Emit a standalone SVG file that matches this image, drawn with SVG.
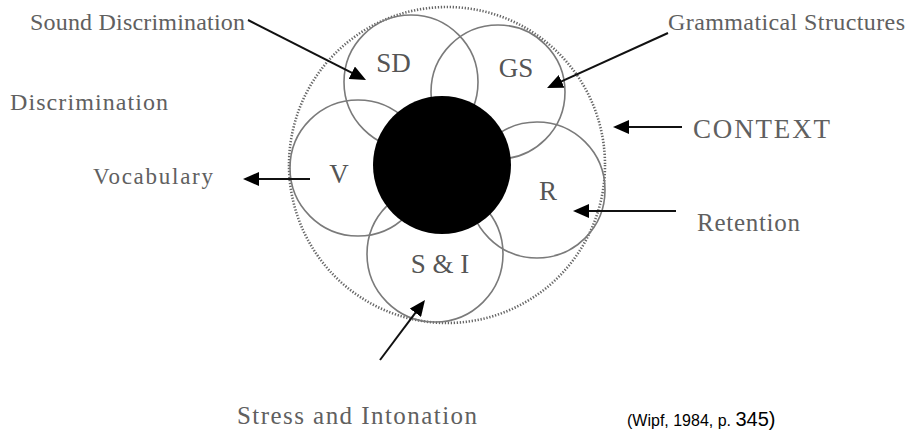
<svg xmlns="http://www.w3.org/2000/svg" width="910" height="430" viewBox="0 0 910 430">
<style>
.lbl{font-family:"Liberation Serif","Times New Roman",serif;fill:#606060;}
.in{font-family:"Liberation Serif","Times New Roman",serif;fill:#555;font-size:27px;text-anchor:middle;}
.ring{fill:none;stroke:#7a7a7a;stroke-width:1.6;}
.ctx{fill:none;stroke:#666;stroke-width:2.6;stroke-dasharray:1.3 1.7;}
.arr{stroke:#111;stroke-width:2;fill:none;marker-end:url(#ah);}
.cite{font-family:"Liberation Sans",Arial,sans-serif;fill:#000;}
</style>
<defs>
<marker id="ah" viewBox="0 0 16 14" refX="8" refY="7" markerWidth="16" markerHeight="14" markerUnits="userSpaceOnUse" orient="auto">
<path d="M0,0 L16,7 L0,14 z" fill="#000"/>
</marker>
</defs>
<rect width="910" height="430" fill="#fff"/>
<g id="context-ring"><circle class="ctx" cx="447" cy="165" r="158"/></g>
<g id="node-sd"><circle class="ring" cx="411" cy="82" r="67"/><text class="in" x="393.5" y="72">SD</text></g>
<g id="node-gs"><circle class="ring" cx="498" cy="92" r="67"/><text class="in" x="516" y="77">GS</text></g>
<g id="node-v"><circle class="ring" cx="358" cy="168" r="68"/><text class="in" x="339" y="183">V</text></g>
<g id="node-r"><circle class="ring" cx="537" cy="190" r="68"/><text class="in" x="548" y="200">R</text></g>
<g id="node-si"><circle class="ring" cx="435" cy="254" r="68"/><text class="in" x="440" y="273">S &amp; I</text></g>
<g id="node-core"><circle cx="442" cy="165" r="69" fill="#000"/></g>
<g id="label-sound"><text class="lbl" x="30" y="30" font-size="24" textLength="215" lengthAdjust="spacing">Sound Discrimination</text></g>
<g id="label-discrimination"><text class="lbl" x="10" y="110" font-size="24" textLength="158" lengthAdjust="spacing">Discrimination</text></g>
<g id="label-vocabulary"><text class="lbl" x="93" y="184" font-size="23" textLength="120" lengthAdjust="spacing">Vocabulary</text></g>
<g id="label-grammatical"><text class="lbl" x="668" y="30" font-size="24" textLength="237" lengthAdjust="spacing">Grammatical Structures</text></g>
<g id="label-context"><text class="lbl" x="693" y="138" font-size="27" textLength="137" lengthAdjust="spacing">CONTEXT</text></g>
<g id="label-retention"><text class="lbl" x="697" y="231" font-size="25" textLength="103" lengthAdjust="spacing">Retention</text></g>
<g id="label-stress"><text class="lbl" x="237" y="424" font-size="25" textLength="240" lengthAdjust="spacing">Stress and Intonation</text></g>
<g id="citation"><text class="cite" x="627" y="426" font-size="16">(Wipf, 1984, p. <tspan font-size="20">345)</tspan></text></g>
<g id="connectors">
<line class="arr" x1="248" y1="20" x2="358.9" y2="76.4"/>
<line class="arr" x1="668" y1="33" x2="554.3" y2="84.7"/>
<line class="arr" x1="682" y1="127" x2="621" y2="127"/>
<line class="arr" x1="676" y1="211" x2="581" y2="211" stroke-width="3"/>
<line class="arr" x1="310" y1="179" x2="251" y2="179"/>
<line class="arr" x1="380" y1="360" x2="420.2" y2="306.4"/>
</g>
</svg>
